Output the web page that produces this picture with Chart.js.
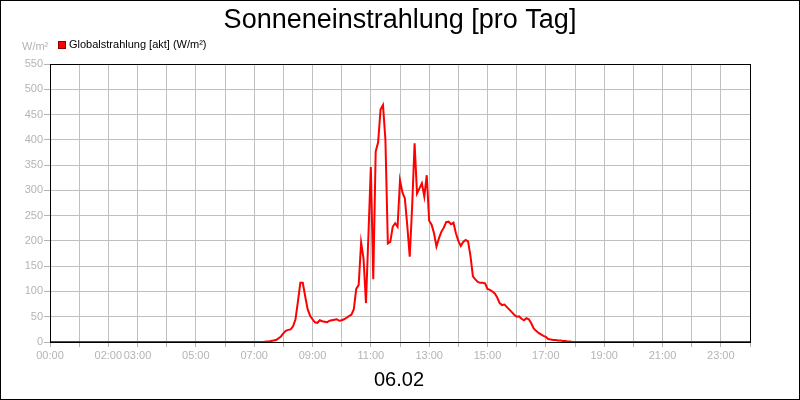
<!DOCTYPE html>
<html>
<head>
<meta charset="utf-8">
<script src="https://cdn.jsdelivr.net/npm/chart.js@4"></script>
<style>
  body { margin: 0; background: #fff; }
  canvas { display: block; }
</style>
</head>
<body>
<canvas id="grafica" width="800" height="400"></canvas>
<script>
// Werte in 5-Minuten-Schritten von 07:00 bis 18:00 (W/m²)
const startZeit = "07:00";
const schrittMinuten = 5;
const werte = [
    0, 0, 0, 0, 0, 1, 1, 2, 3, 4, 7, 11,            // 07:00 - 07:55
    17, 22, 24, 25, 31, 45, 80, 117, 117, 90, 65, 52, // 08:00 - 08:55
    45, 39, 38, 43, 41, 40, 39, 42, 43, 44, 45, 42, // 09:00 - 09:55
    43, 45, 48, 51, 54, 65, 105, 113, 197, 165, 77, 210, // 10:00 - 10:55
    346, 124, 377, 395, 460, 469, 400, 195, 198, 228, 235, 228, // 11:00 - 11:55
    320, 296, 284, 230, 169, 268, 393, 294, 304, 314, 288, 330, // 12:00 - 12:55
    240, 232, 215, 189, 205, 218, 226, 237, 238, 233, 236, 215, // 13:00 - 13:55
    200, 190, 198, 202, 199, 170, 130, 124, 119, 117, 117, 116, // 14:00 - 14:55
    105, 103, 100, 96, 88, 77, 73, 74, 69, 64, 59, 54, // 15:00 - 15:55
    50, 51, 46, 43, 47, 45, 37, 27, 22, 18, 15, 12, // 16:00 - 16:55
    10, 6, 5, 4, 4, 3, 3, 2, 2, 1, 1, 0,            // 17:00 - 17:55
    0                                               // 18:00
];
// Nachtwerte (keine Einstrahlung)
const nachtZeiten = ["00:00", "24:00"];
const nachtWerte = [0, 0];

const xBeschriftungen = ["00:00", "02:00", "03:00", "05:00", "07:00", "09:00", "11:00",
    "13:00", "15:00", "17:00", "19:00", "21:00", "23:00"];
const yTicks = [0, 50, 100, 150, 200, 250, 300, 350, 400, 450, 500, 550];

const titel = "Sonneneinstrahlung [pro Tag]";
const legendeText = "Globalstrahlung [akt] (W/m²)";
const einheit = "W/m²";
const datum = "06.02";

function zeitZuStunden(t) {
    let teile = t.split(":");
    return parseInt(teile[0]) + parseInt(teile[1]) / 60;
}

let punkte = [];
punkte.push({ x: zeitZuStunden(nachtZeiten[0]), y: nachtWerte[0] });
let start = zeitZuStunden(startZeit);
for (let i = 0; i < werte.length; i++) {
    punkte.push({ x: start + i * schrittMinuten / 60, y: werte[i] });
}
punkte.push({ x: zeitZuStunden(nachtZeiten[1]), y: nachtWerte[1] });

const grau = '#b4b4b4';
const gitter = '#c0c0c0';

// Titel, Legende, Rahmen usw.
const rahmenPlugin = {
    id: 'rahmen',
    afterDraw(chart) {
        const ctx = chart.ctx;
        const a = chart.chartArea;
        ctx.save();
        ctx.strokeStyle = '#000';
        ctx.lineWidth = 1;
        ctx.strokeRect(a.left + 0.5, a.top + 0.5, a.right - a.left, a.bottom - a.top);
        ctx.strokeRect(0.5, 0.5, 799, 399);

        ctx.fillStyle = '#000';
        ctx.textAlign = 'center';
        ctx.textBaseline = 'alphabetic';
        ctx.font = '27px "Liberation Sans", Arial, sans-serif';
        ctx.fillText(titel, 400, 28);

        ctx.font = '20px "Liberation Sans", Arial, sans-serif';
        ctx.fillText(datum, 399, 386);

        // Legende
        ctx.fillStyle = '#ff0000';
        ctx.fillRect(58, 41, 8, 8);
        ctx.strokeStyle = '#900000';
        ctx.strokeRect(58.5, 41.5, 7, 7);
        ctx.fillStyle = '#000';
        ctx.textAlign = 'left';
        ctx.textBaseline = 'middle';
        ctx.font = '11px "Liberation Sans", Arial, sans-serif';
        ctx.fillText(legendeText, 69, 45);

        ctx.fillStyle = grau;
        ctx.fillText(einheit, 22, 47);
        ctx.restore();
    }
};

new Chart(document.getElementById('grafica'), {
    type: 'line',
    data: {
        datasets: [{
            data: punkte,
            borderColor: '#ff0000',
            borderWidth: 2,
            pointRadius: 0,
            tension: 0,
            fill: false
        }]
    },
    options: {
        responsive: false,
        animation: false,
        devicePixelRatio: 1,
        layout: { padding: { left: 0, top: 64, right: 50, bottom: 0 } },
        plugins: {
            legend: { display: false },
            tooltip: { enabled: false },
            title: { display: false }
        },
        scales: {
            x: {
                type: 'linear',
                min: 0,
                max: 24,
                afterFit: s => { s.height = 58; },
                afterBuildTicks: s => {
                    s.ticks = [];
                    for (let h = 0; h <= 24; h++) s.ticks.push({ value: h });
                },
                ticks: {
                    autoSkip: false,
                    maxRotation: 0,
                    color: grau,
                    padding: 2,
                    font: { family: '"Liberation Sans", Arial, sans-serif', size: 11 },
                    callback: function (v) {
                        let l = (v < 10 ? '0' : '') + v + ':00';
                        return xBeschriftungen.includes(l) ? l : '';
                    }
                },
                grid: { color: gitter, tickColor: grau, tickLength: 5 },
                border: { color: '#000', width: 1 }
            },
            y: {
                min: yTicks[0],
                max: yTicks[yTicks.length - 1],
                afterFit: s => { s.width = 50; },
                afterBuildTicks: s => { s.ticks = yTicks.map(v => ({ value: v })); },
                ticks: {
                    color: grau,
                    padding: 1,
                    font: { family: '"Liberation Sans", Arial, sans-serif', size: 11 }
                },
                grid: { color: gitter, tickColor: grau, tickLength: 6 },
                border: { color: '#000', width: 1 }
            }
        }
    },
    plugins: [rahmenPlugin]
});
</script>
</body>
</html>
